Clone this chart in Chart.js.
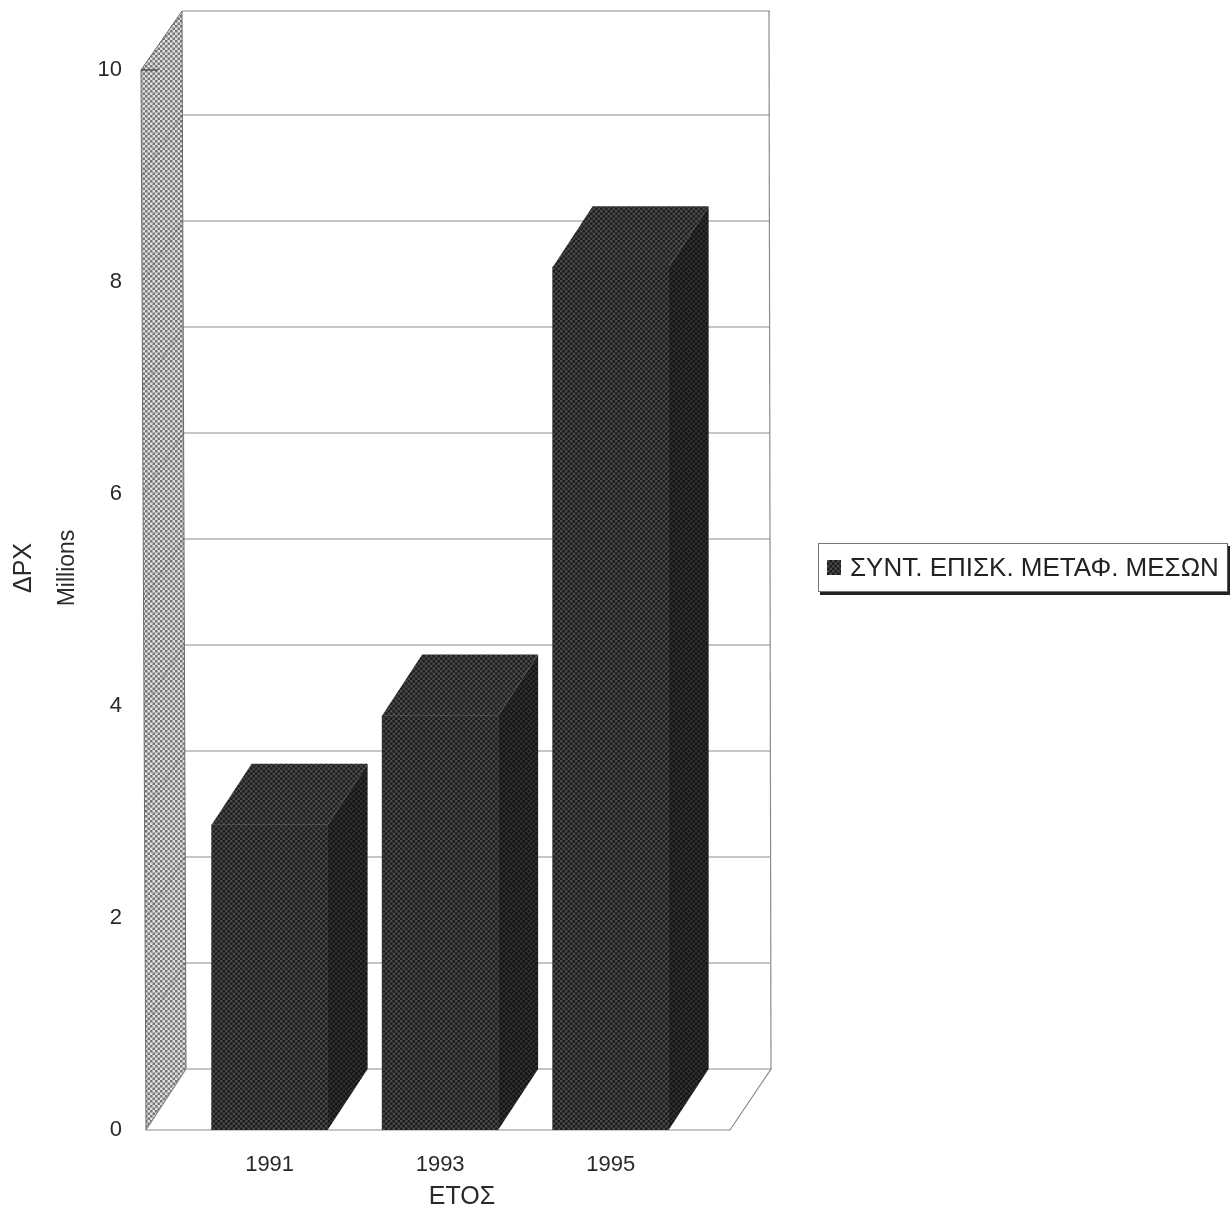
<!DOCTYPE html>
<html>
<head>
<meta charset="utf-8">
<title>ΣΥΝΤ. ΕΠΙΣΚ. ΜΕΤΑΦ. ΜΕΣΩΝ</title>
<script src="https://cdn.jsdelivr.net/npm/chart.js@4/dist/chart.umd.min.js"></script>
<style>
html, body { margin: 0; padding: 0; background: #fff; }
#wrap { position: relative; width: 1231px; height: 1213px; overflow: hidden; }
canvas { display: block; }
#legend {
    position: absolute; left: 818px; top: 543px; width: 408px; height: 47px;
    border: 1px solid #777; border-right: 1px solid #555; background: #fff;
    box-shadow: 2px 3px 0 #222;
    font: 26px "Liberation Sans", Arial, sans-serif; color: #222;
    display: flex; align-items: center; white-space: nowrap;
}
#legendSwatch { width: 14px; height: 15px; margin: 0 9px 0 8px; flex: none; }
</style>
</head>
<body>
<div id="wrap">
    <canvas id="chart" width="1231" height="1213"></canvas>
    <div id="legend"><span id="legendSwatch"></span><span id="legendLabel"></span></div>
</div>
<script>
const years = [1991, 1993, 1995];
const maintenance = [2.88, 3.91, 8.14];
const yTicks = [0, 2, 4, 6, 8, 10];
const gridValues = [1, 2, 3, 4, 5, 6, 7, 8, 9, 10];
const seriesLabel = 'ΣΥΝΤ. ΕΠΙΣΚ. ΜΕΤΑΦ. ΜΕΣΩΝ';
const yTitle = 'ΔΡΧ';
const yUnits = 'Millions';
const xTitle = 'ΕΤΟΣ';

// Depth of the fake 3D box, in pixels
const DEPTH_X = 40;
const DEPTH_Y = -61;
const LINE = '#8c8c8c';
const TEXT = '#2a2a2a';
const FONT = '"Liberation Sans", Arial, sans-serif';

// Small stipple tile, used as a fill pattern
function makeTile(base, dot, size) {
    const tile = document.createElement('canvas');
    tile.width = size;
    tile.height = size;
    const c = tile.getContext('2d');
    c.fillStyle = base;
    c.fillRect(0, 0, size, size);
    c.fillStyle = dot;
    c.fillRect(0, 0, size / 2, size / 2);
    c.fillRect(size / 2, size / 2, size / 2, size / 2);
    return tile;
}

const ctx = document.getElementById('chart').getContext('2d');
const frontTile = makeTile('#1c1c1c', '#484848', 5);
const frontFill = ctx.createPattern(frontTile, 'repeat');
const sideFill = ctx.createPattern(makeTile('#141414', '#303030', 5), 'repeat');
const topFill = ctx.createPattern(makeTile('#1e1e1e', '#4a4a4a', 5), 'repeat');
const wallFill = ctx.createPattern(makeTile('#e0e0e0', '#767676', 5), 'repeat');

function polygon(c, points, fill, stroke, lineWidth) {
    c.beginPath();
    points.forEach(([x, y], i) => (i ? c.lineTo(x, y) : c.moveTo(x, y)));
    c.closePath();
    if (fill) {
        c.fillStyle = fill;
        c.fill();
    }
    if (stroke) {
        c.strokeStyle = stroke;
        c.lineWidth = lineWidth || 1.5;
        c.stroke();
    }
}

// Back wall, left wall and floor, then the depth faces of each bar
const box3d = {
    id: 'box3d',
    beforeDatasetsDraw(chart) {
        const c = chart.ctx;
        const { left, right, top, bottom } = chart.chartArea;
        const yScale = chart.scales.y;

        c.save();
        // Back wall lines
        c.strokeStyle = LINE;
        c.lineWidth = 1.2;
        gridValues.forEach(v => {
            const y = yScale.getPixelForValue(v) + DEPTH_Y + (v === 10 ? 2 : 0);
            c.beginPath();
            c.moveTo(left + DEPTH_X - 4 * v / 10, y);
            c.lineTo(right + DEPTH_X, y);
            c.stroke();
        });
        c.beginPath();
        c.moveTo(right + DEPTH_X - 1, top + DEPTH_Y + 2);
        c.lineTo(right + DEPTH_X + 1, bottom + DEPTH_Y);
        c.stroke();

        // Left wall
        polygon(c, [
            [left - 5, top],
            [left + DEPTH_X - 4, top + DEPTH_Y + 2],
            [left + DEPTH_X, bottom + DEPTH_Y],
            [left, bottom]
        ], wallFill, '#6a6a6a', 1);

        // Faint diagonals on the wall
        c.strokeStyle = 'rgba(70,70,70,0.3)';
        c.lineWidth = 1;
        gridValues.slice(0, -1).forEach(v => {
            const y = yScale.getPixelForValue(v);
            c.beginPath();
            c.moveTo(left - 5 * v / 10, y);
            c.lineTo(left + DEPTH_X - 4 * v / 10, y + DEPTH_Y);
            c.stroke();
        });

        // Short mark at the top of the wall
        c.strokeStyle = '#555';
        c.lineWidth = 1.5;
        c.beginPath();
        c.moveTo(left - 5, top);
        c.lineTo(left + 12, top);
        c.stroke();

        // Floor
        polygon(c, [
            [left, bottom],
            [right, bottom],
            [right + DEPTH_X + 1, bottom + DEPTH_Y],
            [left + DEPTH_X, bottom + DEPTH_Y]
        ], '#fff', LINE, 1.2);

        // Bar tops and sides
        chart.getDatasetMeta(0).data.forEach(bar => {
            const l = bar.x - bar.width / 2;
            const r = bar.x + bar.width / 2;
            polygon(c, [
                [l, bar.y],
                [l + DEPTH_X, bar.y + DEPTH_Y],
                [r + DEPTH_X, bar.y + DEPTH_Y],
                [r, bar.y]
            ], topFill);
            polygon(c, [
                [r, bar.y],
                [r + DEPTH_X, bar.y + DEPTH_Y],
                [r + DEPTH_X, bar.base + DEPTH_Y],
                [r, bar.base]
            ], sideFill);
        });
        c.restore();
    },
    afterDraw(chart) {
        const c = chart.ctx;
        c.save();
        c.fillStyle = TEXT;
        c.textAlign = 'center';
        c.textBaseline = 'middle';
        c.font = `25px ${FONT}`;
        c.fillText(xTitle, 462, 1197);
        c.translate(24, 568);
        c.rotate(-Math.PI / 2);
        c.font = `25px ${FONT}`;
        c.fillText(yTitle, 0, 0);
        c.rotate(Math.PI / 2);
        c.translate(44, 0);
        c.rotate(-Math.PI / 2);
        c.font = `23px ${FONT}`;
        c.fillText(yUnits, 0, 0);
        c.restore();
    }
};

new Chart(ctx, {
    type: 'bar',
    data: {
        datasets: [{
            label: seriesLabel,
            data: years.map((year, i) => ({ x: year, y: maintenance[i] })),
            backgroundColor: frontFill,
            borderWidth: 0,
            barThickness: 116
        }]
    },
    options: {
        responsive: false,
        animation: false,
        layout: { padding: { left: 0, top: 70, right: 501, bottom: 0 } },
        plugins: { legend: { display: false }, tooltip: { enabled: false } },
        scales: {
            x: {
                type: 'linear',
                offset: false,
                min: 1989.55,
                max: 1996.4,
                grid: { display: false },
                border: { display: false },
                afterBuildTicks: scale => {
                    scale.ticks = years.map(value => ({ value }));
                },
                afterFit: scale => {
                    scale.height = 83;
                },
                ticks: {
                    autoSkip: false,
                    maxRotation: 0,
                    padding: 14,
                    color: TEXT,
                    font: { family: FONT, size: 22 },
                    callback: value => String(value)
                }
            },
            y: {
                min: 0,
                max: 10,
                grid: { display: false },
                border: { display: false },
                afterBuildTicks: scale => {
                    scale.ticks = yTicks.map(value => ({ value }));
                },
                afterFit: scale => {
                    scale.width = 146;
                },
                ticks: {
                    padding: 16,
                    color: TEXT,
                    font: { family: FONT, size: 22 }
                }
            }
        }
    },
    plugins: [box3d]
});

// Legend sits outside the plot, built as plain HTML
document.getElementById('legendLabel').textContent = seriesLabel;
const swatch = document.getElementById('legendSwatch');
swatch.style.backgroundImage = `url(${frontTile.toDataURL()})`;
</script>
</body>
</html>
